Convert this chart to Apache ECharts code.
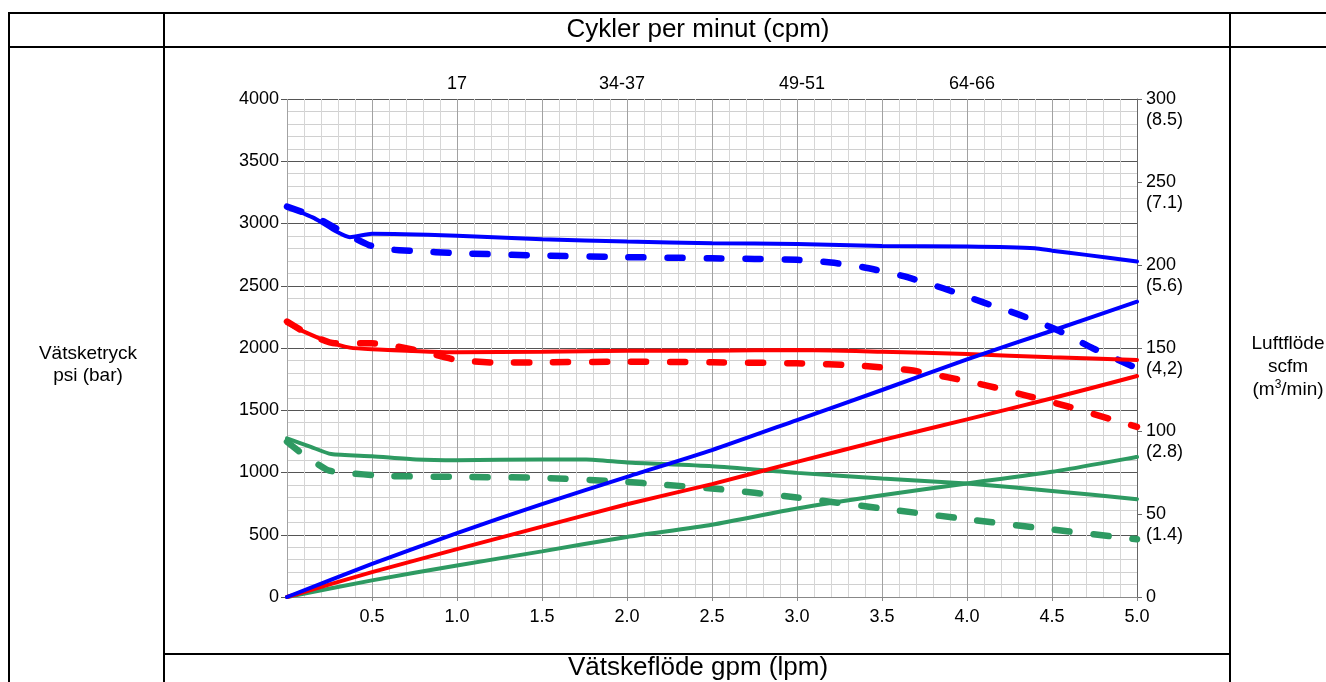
<!DOCTYPE html>
<html><head><meta charset="utf-8">
<script src="https://cdn.jsdelivr.net/npm/echarts@6/dist/echarts.min.js"></script>
<style>html,body{margin:0;padding:0;background:#fff}#c{width:1326px;height:682px}</style>
</head><body><div id="c"></div>
<script>
// ---- data (fluid pressure psi, left axis) ----
const blueSolidX = [0, 0.16, 0.29, 0.37, 0.5, 1.0, 1.5, 2.0, 2.5, 3.0, 3.5, 4.0, 4.4, 4.5, 4.7, 5.0];
const blueSolidY = [3136, 3043, 2935, 2890, 2917, 2901, 2874, 2855, 2842, 2836, 2820, 2815, 2802, 2782, 2748, 2694];
const blueDashX = [0, 0.16, 0.27, 0.37, 0.48, 0.57, 0.75, 1.0, 1.5, 2.0, 2.5, 3.0, 3.2, 3.39, 3.62, 3.86, 4.1, 4.31, 4.53, 4.74, 5.0];
const blueDashY = [3136, 3056, 2975, 2900, 2828, 2796, 2778, 2762, 2742, 2730, 2721, 2708, 2686, 2649, 2579, 2480, 2364, 2266, 2145, 1998, 1837];
const redSolidX = [0, 0.1, 0.24, 0.37, 0.5, 1.0, 1.5, 2.0, 2.5, 3.0, 3.5, 4.0, 4.5, 5.0];
const redSolidY = [2199, 2131, 2051, 2003, 1990, 1965, 1970, 1978, 1978, 1984, 1970, 1952, 1925, 1904];
const redDashX = [0, 0.1, 0.28, 0.5, 0.6, 0.8, 1.0, 1.24, 1.5, 2.0, 2.5, 3.0, 3.37, 3.66, 3.89, 4.13, 4.36, 4.6, 4.83, 5.0];
const redDashY = [2212, 2131, 2038, 2038, 2024, 1970, 1904, 1882, 1885, 1890, 1885, 1877, 1858, 1823, 1764, 1694, 1614, 1528, 1435, 1367];
const greenSolidX = [0, 0.14, 0.26, 0.5, 0.76, 1.0, 1.5, 1.76, 2.0, 2.5, 3.0, 3.5, 4.0, 4.5, 5.0];
const greenSolidY = [1274, 1206, 1148, 1131, 1105, 1099, 1105, 1105, 1081, 1050, 997, 952, 912, 852, 786];
const greenDashX = [0, 0.1, 0.24, 0.33, 0.57, 1.0, 1.5, 2.0, 2.19, 2.5, 3.0, 3.5, 4.0, 4.5, 5.0];
const greenDashY = [1247, 1140, 1019, 1000, 973, 965, 957, 925, 904, 872, 799, 711, 625, 542, 464];
// ---- air flow scfm (right axis) ----
const airX = [0, 0.5, 1.0, 1.5, 2.0, 2.5, 3.0, 3.5, 4.0, 4.5, 5.0];
const blueAir = [0, 20, 38.5, 56, 72.4, 88.5, 106.6, 124.7, 143.2, 160.4, 177.9];
const redAir = [0, 15, 28.8, 42.4, 55.9, 68, 81.4, 94.5, 107, 119.7, 133.1];
const greenAir = [0, 10, 19, 27.5, 36.2, 43.5, 53.3, 61.3, 68.4, 75.4, 84.4];
// ---- tick labels ----
const cpmLabels = ['17', '34-37', '49-51', '64-66'];
const cpmPositions = [1.0, 1.97, 3.03, 4.03];
const scfmTicks = [0, 50, 100, 150, 200, 250, 300];
const m3Labels = ['', '(1.4)', '(2.8)', '(4,2)', '(5.6)', '(7.1)', '(8.5)'];

const FONT = 'Liberation Sans, Arial, Helvetica, sans-serif';
const BLUE = '#0000ff', RED = '#ff0000', GREEN = '#2e9a62';
const zip = (xs, ys) => xs.map((x, i) => [x, ys[i]]);

function curve(xs, ys, color, dashed, yIdx) {
  return {
    type: 'line', xAxisIndex: 0, yAxisIndex: yIdx, data: zip(xs, ys),
    showSymbol: false, symbol: 'none', smooth: 0.2, silent: true,
    lineStyle: dashed ? { color, width: 6.5, type: [15, 24], cap: 'round' }
                      : { color, width: 4, cap: 'round' }
  };
}

const chart = echarts.init(document.getElementById('c'), null, { renderer: 'canvas' });
const L = (x1, y1, x2, y2) => ({ type: 'line', silent: true, shape: { x1, y1, x2, y2 }, style: { stroke: '#000', lineWidth: 2 }, z: 100 });
const T = (x, y, text, size, extra) => ({ type: 'text', silent: true, x, y, z: 100,
  style: Object.assign({ text, fontSize: size, fontFamily: FONT, fill: '#000', align: 'center', verticalAlign: 'middle' }, extra || {}) });

chart.setOption({
  animation: false,
  textStyle: { fontFamily: FONT },
  grid: { left: 287, right: 189, top: 99, bottom: 85 },
  xAxis: [{
    type: 'value', min: 0, max: 5, interval: 0.5, position: 'bottom',
    axisLine: { show: true, lineStyle: { color: '#888', width: 1 } },
    axisTick: { show: true, length: 4, lineStyle: { color: '#888' } },
    axisLabel: { fontSize: 18, color: '#000', margin: 11, showMinLabel: false, formatter: v => v.toFixed(1) },
    splitLine: { show: true, lineStyle: { color: '#a2a2a2', width: 1 } },
    minorTick: { show: false, splitNumber: 5 },
    minorSplitLine: { show: true, lineStyle: { color: '#d6d6d6', width: 1 } }
  }, {
    type: 'value', min: 0, max: 5, position: 'top',
    axisLine: { show: false }, axisTick: { show: false }, splitLine: { show: false },
    axisLabel: {
      fontSize: 18, color: '#000', margin: 6, customValues: cpmPositions,
      formatter: v => { let b = 0; cpmPositions.forEach((p, i) => { if (Math.abs(p - v) < Math.abs(cpmPositions[b] - v)) b = i; }); return cpmLabels[b]; }
    }
  }],
  yAxis: [{
    type: 'value', min: 0, max: 4000, interval: 500, position: 'left',
    axisLine: { show: false, onZero: false },
    axisTick: { show: true, length: 6, lineStyle: { color: '#555' } },
    axisLabel: { fontSize: 18, color: '#000', margin: 8, formatter: v => String(v) },
    splitLine: { show: true, lineStyle: { color: '#555', width: 1 } },
    minorTick: { show: false, splitNumber: 5 },
    minorSplitLine: { show: true, lineStyle: { color: '#d0d0d0', width: 1 } }
  }, {
    type: 'value', min: 0, max: 300, interval: 50, position: 'right',
    axisLine: { show: true, onZero: false, lineStyle: { color: '#666', width: 1 } },
    axisTick: { show: true, length: 5, lineStyle: { color: '#666' } },
    splitLine: { show: false },
    axisLabel: {
      fontSize: 18, color: '#000', margin: 9, lineHeight: 21, align: 'left',
      formatter: v => { const i = scfmTicks.indexOf(v); return i <= 0 ? String(v) : '\n' + v + '\n' + m3Labels[i]; }
    }
  }],
  series: [
    curve(blueSolidX, blueSolidY, BLUE, false, 0),
    curve(blueDashX, blueDashY, BLUE, true, 0),
    curve(redSolidX, redSolidY, RED, false, 0),
    curve(redDashX, redDashY, RED, true, 0),
    curve(greenSolidX, greenSolidY, GREEN, false, 0),
    curve(greenDashX, greenDashY, GREEN, true, 0),
    curve(airX, greenAir, GREEN, false, 1),
    curve(airX, redAir, RED, false, 1),
    curve(airX, blueAir, BLUE, false, 1)
  ],
  graphic: [
    L(9, 13, 1326, 13), L(9, 47, 1326, 47),
    L(9, 12, 9, 682), L(164, 12, 164, 682), L(1230, 12, 1230, 682),
    L(164, 654, 1230, 654),
    T(698, 30, 'Cykler per minut (cpm)', 26),
    T(698, 668, 'Vätskeflöde gpm (lpm)', 26),
    T(88, 365, 'Vätsketryck\npsi (bar)', 19, { lineHeight: 22 }),
    { type: 'text', silent: true, x: 1288, y: 367, z: 100,
      style: { text: '{a|Luftflöde}\n{a|scfm}\n{a|(m}{s|3}{a|/min)}', align: 'center', verticalAlign: 'middle',
        rich: { a: { fontSize: 19, fontFamily: FONT, fill: '#000', lineHeight: 23 },
                s: { fontSize: 12, fontFamily: FONT, fill: '#000', lineHeight: 23, verticalAlign: 'top' } } } }
  ]
});
</script></body></html>
